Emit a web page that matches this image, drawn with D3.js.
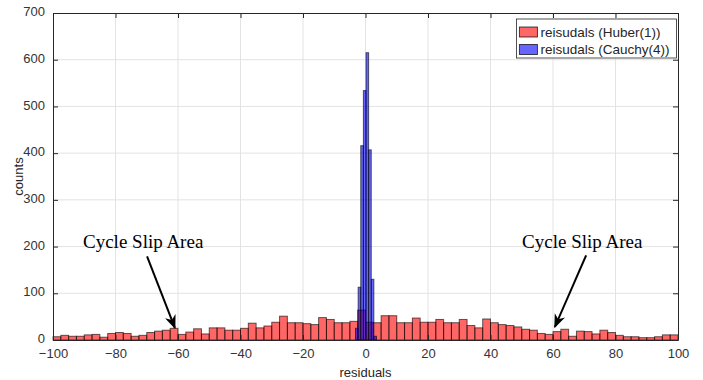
<!DOCTYPE html>
<html>
<head>
<meta charset="utf-8">
<script src="https://cdn.jsdelivr.net/npm/d3@7"></script>
<style>
  body { margin: 0; background: #fff; }
  svg text { font-family: Arial, "Liberation Sans", sans-serif; }
</style>
</head>
<body>
<div id="chart"></div>
<script>
// red histogram: bin width 2.5 from -100 to 100
var redStart = -100
var redWidth = 2.5
var redCounts = [7, 10, 8, 8, 11, 12, 6, 14, 16, 14, 8, 10, 16, 19, 21, 25, 12, 17, 24, 13,
  26, 26, 21, 21, 25, 36, 26, 30, 38, 51, 37, 37, 35, 33, 48, 44, 37, 37, 40, 64,
  38, 37, 52, 52, 37, 37, 47, 38, 38, 44, 37, 37, 44, 31, 26, 45, 37, 33, 31, 28,
  23, 21, 14, 12, 18, 23, 8, 19, 18, 13, 21, 16, 10, 7, 7, 5, 5, 7, 11, 11]

// blue histogram: narrow bins around zero
var blueStart = -3.2
var blueWidth = 0.84
var blueCounts = [25, 113, 416, 534, 615, 407, 130, 8]

var xTicks = [-100, -80, -60, -40, -20, 0, 20, 40, 60, 80, 100]
var yTicks = [0, 100, 200, 300, 400, 500, 600, 700]
var legendLabels = ['reisudals (Huber(1))', 'reisudals (Cauchy(4))']
var notes = [
  {text: 'Cycle Slip Area', tx: -90.4, ty: 196, ax: -69.9, ay: 179, bx: -61, by: 26},
  {text: 'Cycle Slip Area', tx: 50.1, ty: 198, ax: 70.6, ay: 181, bx: 60.6, by: 28}
]

var svgWidth = 703
var svgHeight = 380
var margin = {top: 13, right: 25, bottom: 40, left: 53}
var width = svgWidth - margin.left - margin.right
var height = svgHeight - margin.top - margin.bottom

var svg = d3.select('#chart')
  .append('svg')
  .attr('width', svgWidth)
  .attr('height', svgHeight)

var defs = svg.append('defs')
defs.append('marker')
  .attr('id', 'arrow')
  .attr('viewBox', '0 0 10 10')
  .attr('refX', 9)
  .attr('refY', 5)
  .attr('markerWidth', 7)
  .attr('markerHeight', 7)
  .attr('orient', 'auto')
  .append('path')
  .attr('d', 'M0,1 L10,5 L0,9 L3,5 Z')
  .attr('fill', '#000')

var chartGroup = svg.append('g')
  .attr('transform', `translate(${margin.left}, ${margin.top})`)

var xScale = d3.scaleLinear().domain([-100, 100]).range([0, width])
var yScale = d3.scaleLinear().domain([0, 700]).range([height, 0])

//grid lines
chartGroup.append('g')
  .selectAll('line')
  .data(xTicks.slice(1, -1))
  .enter()
  .append('line')
  .attr('x1', d => xScale(d)).attr('x2', d => xScale(d))
  .attr('y1', 0).attr('y2', height)
  .attr('stroke', '#e3e3e3')

chartGroup.append('g')
  .selectAll('line')
  .data(yTicks.slice(1, -1))
  .enter()
  .append('line')
  .attr('x1', 0).attr('x2', width)
  .attr('y1', d => yScale(d)).attr('y2', d => yScale(d))
  .attr('stroke', '#e3e3e3')

//bars
var redData = redCounts.map((c, i) => ({x0: redStart + i * redWidth, x1: redStart + (i + 1) * redWidth, c: c}))
var blueData = blueCounts.map((c, i) => ({x0: blueStart + i * blueWidth, x1: blueStart + (i + 1) * blueWidth, c: c}))

chartGroup.selectAll('.redBar')
  .data(redData)
  .enter()
  .append('rect')
  .attr('class', 'redBar')
  .attr('x', d => xScale(d.x0))
  .attr('width', d => xScale(d.x1) - xScale(d.x0))
  .attr('y', d => yScale(d.c))
  .attr('height', d => yScale(0) - yScale(d.c))
  .attr('fill', 'rgb(255,0,0)')
  .attr('fill-opacity', 0.6)
  .attr('stroke', '#000')
  .attr('stroke-opacity', 0.6)
  .attr('stroke-width', 1)

chartGroup.selectAll('.blueBar')
  .data(blueData)
  .enter()
  .append('rect')
  .attr('class', 'blueBar')
  .attr('x', d => xScale(d.x0))
  .attr('width', d => xScale(d.x1) - xScale(d.x0))
  .attr('y', d => yScale(d.c))
  .attr('height', d => yScale(0) - yScale(d.c))
  .attr('fill', 'rgb(0,0,255)')
  .attr('fill-opacity', 0.6)
  .attr('stroke', '#000')
  .attr('stroke-opacity', 0.6)
  .attr('stroke-width', 1)

//axes, ticks pointing inward like matlab
var xAxis = d3.axisBottom(xScale).tickValues(xTicks).tickSizeInner(-5).tickSizeOuter(0).tickPadding(9)
var yAxis = d3.axisLeft(yScale).tickValues(yTicks).tickSizeInner(-5).tickSizeOuter(0).tickPadding(8)
var xTop = d3.axisTop(xScale).tickValues(xTicks).tickSizeInner(-5).tickSizeOuter(0).tickFormat('')
var yRight = d3.axisRight(yScale).tickValues(yTicks).tickSizeInner(-5).tickSizeOuter(0).tickFormat('')

var gx = chartGroup.append('g').attr('transform', `translate(0, ${height})`).call(xAxis)
var gy = chartGroup.append('g').call(yAxis)
var gt = chartGroup.append('g').call(xTop)
var gr = chartGroup.append('g').attr('transform', `translate(${width}, 0)`).call(yRight)

;[gx, gy, gt, gr].forEach(function(g) {
  g.select('.domain').attr('stroke', '#262626')
  g.selectAll('.tick line').attr('stroke', '#262626')
  g.selectAll('.tick text').attr('fill', '#333').style('font-size', '13px')
})
gy.selectAll('.tick text').attr('dy', '0.2em')

//axis labels
chartGroup.append('text')
  .attr('transform', 'rotate(-90)')
  .attr('x', -height / 2)
  .attr('y', -30)
  .attr('text-anchor', 'middle')
  .style('font-size', '13px')
  .attr('fill', '#262626')
  .text('counts')

chartGroup.append('text')
  .attr('x', width / 2)
  .attr('y', height + 37)
  .attr('text-anchor', 'middle')
  .style('font-size', '13px')
  .attr('fill', '#262626')
  .text('residuals')

//legend
var legend = chartGroup.append('g')
  .attr('transform', `translate(${xScale(48.3)}, 6)`)

legend.append('rect')
  .attr('width', 160)
  .attr('height', 39)
  .attr('fill', '#fff')
  .attr('stroke', '#262626')
  .attr('stroke-width', 0.8)

var legendColors = ['rgb(255,0,0)', 'rgb(0,0,255)']
legendLabels.forEach(function(lab, i) {
  legend.append('rect')
    .attr('x', 3)
    .attr('y', 8 + i * 17.5)
    .attr('width', 18)
    .attr('height', 10)
    .attr('fill', legendColors[i])
    .attr('fill-opacity', 0.6)
    .attr('stroke', '#000')
    .attr('stroke-opacity', 0.7)
  legend.append('text')
    .attr('x', 24)
    .attr('y', 17.5 + i * 17.5)
    .style('font-size', '13.5px')
    .attr('fill', '#262626')
    .text(lab)
})

//annotations
notes.forEach(function(n) {
  chartGroup.append('text')
    .attr('x', xScale(n.tx))
    .attr('y', yScale(n.ty))
    .style('font-family', '"Liberation Serif", "Times New Roman", serif')
    .style('font-size', '19px')
    .attr('fill', '#000')
    .text(n.text)
  chartGroup.append('line')
    .attr('x1', xScale(n.ax)).attr('y1', yScale(n.ay))
    .attr('x2', xScale(n.bx)).attr('y2', yScale(n.by))
    .attr('stroke', '#000')
    .attr('stroke-width', 2)
    .attr('marker-end', 'url(#arrow)')
})
</script>
</body>
</html>
